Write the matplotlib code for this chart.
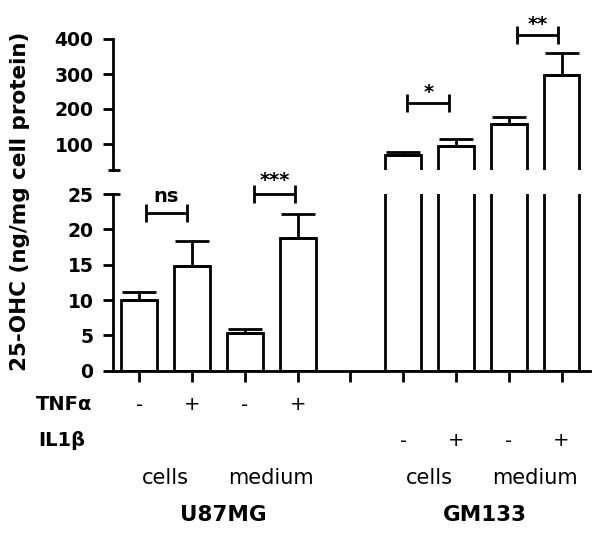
import matplotlib
matplotlib.use('Agg')
import matplotlib.pyplot as plt
import numpy as np
from matplotlib.transforms import blended_transform_factory

# data
positions = [1, 2, 3, 4, 6, 7, 8, 9]
u87_mean = [10.0, 14.8, 5.4, 18.8]
u87_sem = [1.1, 3.6, 0.45, 3.3]
gm_mean = [68, 95, 157, 296]
gm_sem = [10, 18, 19, 65]
tnf_signs = ['-', '+', '-', '+']
il1_signs = ['-', '+', '-', '+']
group_labels = ['cells', 'medium', 'cells', 'medium']
cell_lines = ['U87MG', 'GM133']

plt.rcParams['font.family'] = 'DejaVu Sans'
LW = 2.0
W, H = 600, 536

def fx(px):
    return px / W

def fy(py):
    return 1 - py / H

fig = plt.figure(figsize=(6, 5.36), dpi=100)
left, right = 113, 590
ax_lo = fig.add_axes([fx(left), fy(370.7), fx(right - left), (370.7 - 194) / H])
ax_hi = fig.add_axes([fx(left), fy(170.25), fx(right - left), (170.25 - 39) / H])

u87_x = positions[:4]
gm_x = positions[4:]
bw = 0.68

for ax in (ax_lo, ax_hi):
    ax.bar(u87_x, u87_mean, width=bw, color='white', edgecolor='black', linewidth=LW)
    ax.bar(gm_x, gm_mean, width=bw, color='white', edgecolor='black', linewidth=LW)
    ax.set_xlim(0.5, 9.54)
    ax.spines['top'].set_visible(False)
    ax.spines['right'].set_visible(False)
    ax.spines['left'].set_linewidth(LW)
    ax.tick_params(axis='y', direction='out', length=7, width=LW, pad=7, labelsize=13.5)

ax_lo.errorbar(u87_x, u87_mean, yerr=[np.zeros(4), u87_sem], fmt='none', ecolor='black',
               elinewidth=LW, capsize=12, capthick=LW)
ax_hi.errorbar(gm_x, gm_mean, yerr=[np.zeros(4), gm_sem], fmt='none', ecolor='black',
               elinewidth=LW, capsize=12, capthick=LW)

ax_lo.set_ylim(0, 25)
ax_lo.set_yticks([0, 5, 10, 15, 20, 25])
ax_lo.spines['bottom'].set_linewidth(LW)
ax_lo.set_xticks(range(1, 10))
ax_lo.set_xticklabels([])
ax_lo.tick_params(axis='x', direction='out', length=8, width=LW)

ax_hi.set_ylim(25, 400)
ax_hi.set_yticks([100, 200, 300, 400])
ax_hi.spines['bottom'].set_visible(False)
ax_hi.set_xticks([])

for ax in (ax_lo, ax_hi):
    for lbl in ax.get_yticklabels():
        lbl.set_fontweight('bold')

# break marks
ax_hi.plot([-0.011, 0.015], [0, 0], color='black', lw=LW, transform=ax_hi.transAxes,
           clip_on=False, solid_capstyle='butt')
ax_lo.plot([0, 0.015], [1, 1], color='black', lw=LW, transform=ax_lo.transAxes,
           clip_on=False, solid_capstyle='butt')

def bracket(ax, x0, x1, y, half, label, ytext):
    ax.plot([x0, x1], [y, y], color='black', lw=LW, clip_on=False, solid_capstyle='butt')
    ax.plot([x0, x0], [y - half, y + half], color='black', lw=LW, clip_on=False, solid_capstyle='butt')
    ax.plot([x1, x1], [y - half, y + half], color='black', lw=LW, clip_on=False, solid_capstyle='butt')
    ax.text((x0 + x1) / 2, ytext, label, ha='center', va='baseline', fontsize=14,
            fontweight='bold', clip_on=False)

bracket(ax_lo, 1.12, 1.91, 22.3, 1.3, 'ns', 23.9)
bracket(ax_lo, 3.18, 3.95, 25.0, 1.3, '***', 26.1)
bracket(ax_hi, 6.08, 6.87, 217, 26, '*', 231)
bracket(ax_hi, 8.15, 8.94, 411, 26, '**', 426)

# labels under the axis
tr = blended_transform_factory(ax_lo.transData, fig.transFigure)
for x, s in zip(u87_x, tnf_signs):
    fig.text(x, fy(405), s, transform=tr, ha='center', va='center', fontsize=14)
for x, s in zip(gm_x, il1_signs):
    fig.text(x, fy(441), s, transform=tr, ha='center', va='center', fontsize=14)
fig.text(fx(92), fy(405), 'TNFα', ha='right', va='center', fontsize=14, fontweight='bold')
fig.text(fx(85), fy(441), 'IL1β', ha='right', va='center', fontsize=14, fontweight='bold')

group_x = [1.5, 3.5, 6.5, 8.5]
for x, s in zip(group_x, group_labels):
    fig.text(x, fy(478), s, transform=tr, ha='center', va='center', fontsize=15)
fig.text(2.6, fy(515), cell_lines[0], transform=tr, ha='center', va='center',
         fontsize=15.5, fontweight='bold')
fig.text(7.55, fy(515), cell_lines[1], transform=tr, ha='center', va='center',
         fontsize=15.5, fontweight='bold')

fig.text(fx(20), fy(201), '25-OHC (ng/mg cell protein)', rotation=90, ha='center',
         va='center', fontsize=15.5, fontweight='bold')

fig.savefig('out.png', dpi=100)
